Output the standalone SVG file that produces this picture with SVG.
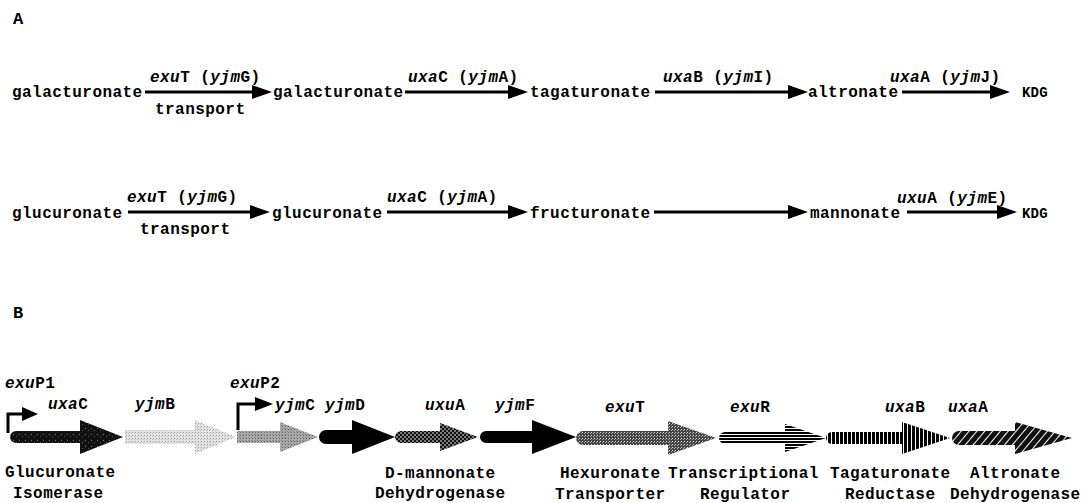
<svg xmlns="http://www.w3.org/2000/svg" width="1086" height="503" viewBox="0 0 1086 503">
<style>
text{font-family:"Liberation Mono","Courier New",monospace;font-weight:bold;font-size:16px;letter-spacing:0.45px;fill:#000}
.i{font-style:italic}
.kdg{font-size:14px;letter-spacing:0.2px}
.panel{font-size:17px}
.ln{stroke:#000;stroke-width:3;fill:none}
.hd{fill:#000}
</style>
<defs>
<pattern id="pDark" width="6" height="6" patternUnits="userSpaceOnUse">
<rect width="6" height="6" fill="#111"/><rect x="1" y="2" width="1" height="1" fill="#777"/><rect x="4" y="4" width="1" height="1" fill="#555"/>
</pattern>
<pattern id="pLight" width="3" height="3" patternUnits="userSpaceOnUse">
<rect width="3" height="3" fill="#e4e4e4"/><rect width="1" height="1" fill="#9a9a9a"/><rect x="2" y="1" width="1" height="1" fill="#bdbdbd"/>
</pattern>
<pattern id="pMid" width="3" height="3" patternUnits="userSpaceOnUse">
<rect width="3" height="3" fill="#aaa"/><rect width="1" height="1" fill="#5a5a5a"/><rect x="2" y="2" width="1" height="1" fill="#808080"/>
</pattern>
<pattern id="pDots" width="4" height="4" patternUnits="userSpaceOnUse">
<rect width="4" height="4" fill="#111"/><circle cx="1" cy="1" r="0.8" fill="#fff"/><circle cx="3" cy="3" r="0.8" fill="#fff"/>
</pattern>
<pattern id="pGrey" width="3" height="3" patternUnits="userSpaceOnUse">
<rect width="3" height="3" fill="#444"/><rect width="1" height="1" fill="#ddd"/><rect x="2" y="1" width="1" height="1" fill="#aaa"/>
</pattern>
<pattern id="pH" width="4" height="3" patternUnits="userSpaceOnUse">
<rect width="4" height="3" fill="#000"/><rect y="2" width="4" height="1" fill="#fff"/>
</pattern>
<pattern id="pV" width="4" height="4" patternUnits="userSpaceOnUse">
<rect width="4" height="4" fill="#000"/><rect x="3" width="1" height="4" fill="#fff"/>
</pattern>
<pattern id="pD" width="6" height="6" patternUnits="userSpaceOnUse" patternTransform="rotate(40)">
<rect width="6" height="6" fill="#111"/><rect x="5" width="1.2" height="6" fill="#fff"/>
</pattern>
</defs>

<text id="labelA" class="panel" x="13" y="24">A</text>
<text id="labelB" class="panel" x="13" y="318">B</text>

<g id="row1">
<text id="n-galact1" x="12" y="97">galacturonate</text>
<text id="n-galact2" x="273" y="97">galacturonate</text>
<text id="n-tagat" x="530" y="97">tagaturonate</text>
<text id="n-altron" x="808" y="97">altronate</text>
<text id="n-kdg1" class="kdg" x="1022" y="97">KDG</text>
<text x="150" y="82"><tspan class="i">exu</tspan>T  (<tspan class="i">yjm</tspan>G)</text>
<text x="155" y="114">transport</text>
<text x="408" y="82"><tspan class="i">uxa</tspan>C  (<tspan class="i">yjm</tspan>A)</text>
<text x="663" y="82"><tspan class="i">uxa</tspan>B  (<tspan class="i">yjm</tspan>I)</text>
<text x="890" y="82"><tspan class="i">uxa</tspan>A  (<tspan class="i">yjm</tspan>J)</text>
</g>

<g id="row2">
<text id="n-glucu1" x="12" y="218">glucuronate</text>
<text id="n-glucu2" x="272" y="218">glucuronate</text>
<text id="n-fruct" x="530" y="218">fructuronate</text>
<text id="n-mannon" x="810" y="218">mannonate</text>
<text id="n-kdg2" class="kdg" x="1022" y="218">KDG</text>
<text x="127" y="202"><tspan class="i">exu</tspan>T  (<tspan class="i">yjm</tspan>G)</text>
<text x="140" y="234">transport</text>
<text x="387" y="202"><tspan class="i">uxa</tspan>C  (<tspan class="i">yjm</tspan>A)</text>
<text x="897" y="203"><tspan class="i">uxu</tspan>A  (<tspan class="i">yjm</tspan>E)</text>
</g>

<g id="connectors">
<line class="ln" x1="145" y1="92" x2="254" y2="92"/><path class="hd" d="M252,85 L272,92 L252,99 Z"/>
<line class="ln" x1="405" y1="92" x2="510" y2="92"/><path class="hd" d="M508,85 L528,92 L508,99 Z"/>
<line class="ln" x1="655" y1="92" x2="790" y2="92"/><path class="hd" d="M788,85 L808,92 L788,99 Z"/>
<line class="ln" x1="902" y1="92" x2="992" y2="92"/><path class="hd" d="M990,85 L1010,92 L990,99 Z"/>
<line class="ln" x1="128" y1="212" x2="252" y2="212"/><path class="hd" d="M250,205 L270,212 L250,219 Z"/>
<line class="ln" x1="387" y1="212" x2="510" y2="212"/><path class="hd" d="M508,205 L528,212 L508,219 Z"/>
<line class="ln" x1="654" y1="212" x2="790" y2="212"/><path class="hd" d="M788,205 L808,212 L788,219 Z"/>
<line class="ln" x1="907" y1="212" x2="999" y2="212"/><path class="hd" d="M997,205 L1017,212 L997,219 Z"/>
</g>

<g id="promoter-exuP1">
<text x="5" y="388"><tspan class="i">exu</tspan>P1</text>
<path d="M8,433 V414 H24" class="ln"/>
<path class="hd" d="M22,407 L38,414 L22,421 Z"/>
</g>
<g id="promoter-exuP2">
<text x="230" y="388"><tspan class="i">exu</tspan>P2</text>
<path d="M238,430 V404 H257" class="ln"/>
<path class="hd" d="M255,397 L273,404 L255,411 Z"/>
</g>

<g id="gene-uxaC">
<text x="48" y="409"><tspan class="i">uxa</tspan>C</text>
<path fill="url(#pDark)" d="M16,431 H80 V420 L123,437 L80,454 V443 H16 A6,6 0 0 1 16,431 Z"/>
<text x="5" y="477">Glucuronate</text>
<text x="13" y="498">Isomerase</text>
</g>
<g id="gene-yjmB">
<text class="i" x="135" y="409">yjm<tspan font-style="normal">B</tspan></text>
<path fill="url(#pLight)" d="M125,430 H195 V420 L236,437 L195,454 V444 H125 Z"/>
</g>
<g id="gene-yjmC">
<text x="275" y="410"><tspan class="i">yjm</tspan>C</text>
<path fill="url(#pMid)" d="M237,431 H280 V422 L318,437 L280,452 V443 H237 Z"/>
</g>
<g id="gene-yjmD">
<text x="325" y="410"><tspan class="i">yjm</tspan>D</text>
<path fill="#000" d="M326,430 H352 V420 L395,437 L352,454 V444 H326 A7,7 0 0 1 326,430 Z"/>
</g>
<g id="gene-uxuA">
<text x="425" y="410"><tspan class="i">uxu</tspan>A</text>
<path fill="url(#pDots)" d="M401,431 H440 V423 L478,437 L440,451 V443 H401 A6,6 0 0 1 401,431 Z"/>
<text x="385" y="478">D-mannonate</text>
<text x="375" y="498">Dehydrogenase</text>
</g>
<g id="gene-yjmF">
<text x="495" y="410"><tspan class="i">yjm</tspan>F</text>
<path fill="#000" d="M486,431 H532 V420 L576,437 L532,454 V443 H486 A6,6 0 0 1 486,431 Z"/>
</g>
<g id="gene-exuT">
<text x="605" y="412"><tspan class="i">exu</tspan>T</text>
<path fill="url(#pGrey)" d="M583,431 H668 V421 L716,438 L668,455 V445 H583 A7,7 0 0 1 583,431 Z"/>
<text x="560" y="478">Hexuronate</text>
<text x="555" y="499">Transporter</text>
</g>
<g id="gene-exuR">
<text x="730" y="412"><tspan class="i">exu</tspan>R</text>
<path fill="url(#pH)" d="M725,432 H785 V424 L826,438 L785,452 V444 H725 A6,6 0 0 1 725,432 Z"/>
<text x="668" y="478">Transcriptional</text>
<text x="700" y="499">Regulator</text>
</g>
<g id="gene-uxaB">
<text x="885" y="412"><tspan class="i">uxa</tspan>B</text>
<path fill="url(#pV)" d="M832,432 H902 V422 L950,438 L902,454 V444 H832 A6,6 0 0 1 832,432 Z"/>
<text x="830" y="478">Tagaturonate</text>
<text x="845" y="499">Reductase</text>
</g>
<g id="gene-uxaA">
<text x="948" y="412"><tspan class="i">uxa</tspan>A</text>
<path fill="url(#pD)" d="M959,431 H1015 V422 L1072,438 L1015,454 V445 H959 A7,7 0 0 1 959,431 Z"/>
<text x="970" y="478">Altronate</text>
<text x="950" y="499">Dehydrogenase</text>
</g>
</svg>
